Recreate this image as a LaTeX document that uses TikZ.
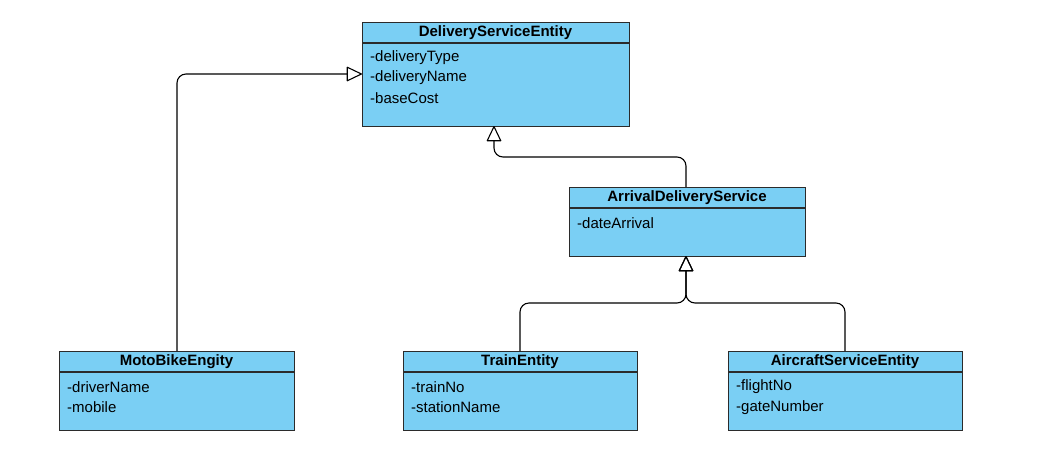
\documentclass[tikz,border=0pt]{standalone}
\usepackage{fontspec}
\setmainfont{Liberation Sans}
\usetikzlibrary{arrows.meta}
\definecolor{boxfill}{HTML}{7ACFF4}
\definecolor{boxline}{HTML}{2B2B2B}
\tikzset{
  classbox/.style={draw=boxline, fill=boxfill, line width=1.2pt, rectangle, inner sep=0pt, anchor=north west},
  hdr/.style={font=\fontsize{15}{17}\selectfont\bfseries, inner sep=0pt},
  attr/.style={font=\fontsize{15}{17}\selectfont, inner sep=0pt, anchor=west},
  inherit/.style={draw=black, line width=1.1pt, rounded corners=9pt, -{Triangle[open, length=16pt, width=15pt, round=false]}},
}
\begin{document}
\begin{tikzpicture}[x=1pt, y=-1pt]
\useasboundingbox (0,0) rectangle (1037,467);
% DeliveryServiceEntity
\node[classbox, minimum width=267pt, minimum height=104pt] (dse) at (362,22) {};
\draw[boxline, line width=1.2pt] (362,43) -- (629,43);
\node[hdr] (dseh) at (495.5,33) {DeliveryServiceEntity};
\node[attr] (dsea) at (370,58) {-deliveryType};
\node[attr] (dseb) at (370,78) {-deliveryName};
\node[attr] (dsec) at (370,98.5) {-baseCost};
% ArrivalDeliveryService
\node[classbox, minimum width=236pt, minimum height=69pt] (ads) at (569,187) {};
\draw[boxline, line width=1.2pt] (569,208) -- (805,208);
\node[hdr] (adsh) at (687,198) {ArrivalDeliveryService};
\node[attr] (adsa) at (577,223) {-dateArrival};
% MotoBikeEngity
\node[classbox, minimum width=235pt, minimum height=79pt] (mbe) at (59,351) {};
\draw[boxline, line width=1.2pt] (59,372) -- (294,372);
\node[hdr] (mbeh) at (176.5,362) {MotoBikeEngity};
\node[attr] (mbea) at (67,387) {-driverName};
\node[attr] (mbeb) at (67,407.5) {-mobile};
% TrainEntity
\node[classbox, minimum width=234pt, minimum height=79pt] (tre) at (403,351) {};
\draw[boxline, line width=1.2pt] (403,372) -- (637,372);
\node[hdr] (treh) at (520,362) {TrainEntity};
\node[attr] (trea) at (411,387) {-trainNo};
\node[attr] (treb) at (411,407.5) {-stationName};
% AircraftServiceEntity
\node[classbox, minimum width=234pt, minimum height=79pt] (ase) at (728,351) {};
\draw[boxline, line width=1.2pt] (728,372) -- (962,372);
\node[hdr] (aseh) at (845,362) {AircraftServiceEntity};
\node[attr] (asea) at (736,387) {-flightNo};
\node[attr] (aseb) at (736,407.5) {-gateNumber};
% connectors
\coordinate (mbetop) at (177,351);
\coordinate (mbeturn) at (177,74);
\coordinate (dseleft) at (362,74);
\draw[inherit] (mbetop) -- (mbeturn) -- (dseleft);
\coordinate (adstop) at (686,187);
\coordinate (adsa1) at (686,157);
\coordinate (adsa2) at (494,157);
\coordinate (dsebot) at (494,126);
\draw[inherit] (adstop) -- (adsa1) -- (adsa2) -- (dsebot);
\coordinate (tretop) at (520,351);
\coordinate (tre1) at (520,303);
\coordinate (junc) at (686,303);
\coordinate (adsbot) at (686,256);
\coordinate (asetop) at (845,351);
\coordinate (ase1) at (845,303);
\draw[inherit] (tretop) -- (tre1) -- (junc) -- (adsbot);
\draw[inherit] (asetop) -- (ase1) -- (junc) -- (adsbot);
\end{tikzpicture}
\end{document}
